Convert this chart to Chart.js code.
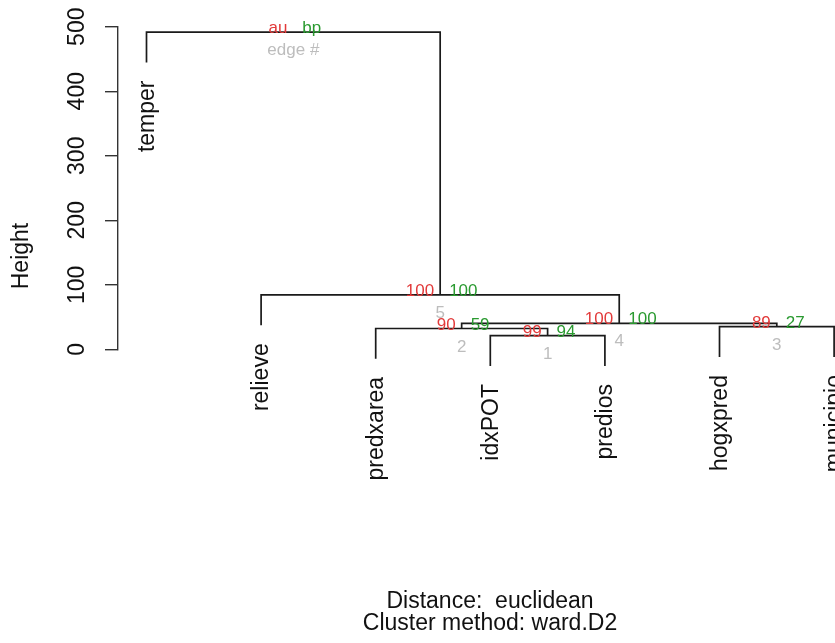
<!DOCTYPE html>
<html><head><meta charset="utf-8">
<script src="https://cdn.jsdelivr.net/npm/chart.js@4/dist/chart.umd.min.js"></script>
<style>html,body{margin:0;padding:0;background:#fff;overflow:hidden}#wrap{width:835px;height:643px;position:relative}</style>
</head><body><div id="wrap"><canvas id="c" width="835" height="643"></canvas></div>
<script>
// ---- data ----
const leafLabels = ['temper', 'relieve', 'predxarea', 'idxPOT', 'predios', 'hogxpred', 'municipio'];
// hclust-style merges: negative = leaf (1-based position), positive = earlier merge
const mergeLeft   = [-4, -3, -6, 2, -2, -1];
const mergeRight  = [-5,  1, -7, 3,  4,  5];
const mergeHeight = [21.1, 32.2, 35.0, 40.3, 84.2, 491.5];
const auValues    = [99, 90, 89, 100, 100];
const bpValues    = [94, 59, 27, 100, 100];
const edgeNumbers = [1, 2, 3, 4, 5];
const yTicks      = [0, 100, 200, 300, 400, 500];
const yTitle      = 'Height';
const subLines    = ['Distance:  euclidean', 'Cluster method: ward.D2'];

// ---- build dendrogram geometry (data space) ----
const hang = 0.1 * (Math.max(...mergeHeight) - Math.min(...mergeHeight));
const nodeX = [], leafBottom = {};
function posOf(ref) { return ref < 0 ? -ref : nodeX[ref - 1]; }
function topOf(ref, k) {
  if (ref < 0) { leafBottom[-ref] = mergeHeight[k] - hang; return leafBottom[-ref]; }
  return mergeHeight[ref - 1];
}
const datasets = [];
for (let k = 0; k < mergeHeight.length; k++) {
  const xl = posOf(mergeLeft[k]), xr = posOf(mergeRight[k]);
  const yl = topOf(mergeLeft[k], k), yr = topOf(mergeRight[k], k);
  const h = mergeHeight[k];
  nodeX.push((xl + xr) / 2);
  datasets.push({
    data: [{x: xl, y: yl}, {x: xl, y: h}, {x: xr, y: h}, {x: xr, y: yr}],
    showLine: true, borderColor: '#1a1a1a', borderWidth: 1.7, pointRadius: 0,
    tension: 0, clip: false, fill: false
  });
}

const FONT = '"Liberation Sans", Arial, Helvetica, sans-serif';
const RED = '#E23A3A', GREEN = '#2A9A30', GRAY = '#BDBDBD';

const overlay = {
  id: 'overlay',
  afterDatasetsDraw(chart) {
    const ctx = chart.ctx, xs = chart.scales.x, ys = chart.scales.y;
    const axisX = chart.chartArea.left;
    ctx.save();
    ctx.fillStyle = '#111';
    // y tick labels (rotated)
    ctx.font = '23px ' + FONT;
    ctx.textAlign = 'center'; ctx.textBaseline = 'middle';
    yTicks.forEach(t => {
      const py = ys.getPixelForValue(t);
      ctx.save(); ctx.translate(axisX - 40.5, py); ctx.rotate(-Math.PI / 2);
      ctx.fillText(String(t), 0, 0); ctx.restore();
    });
    // y title
    ctx.save(); ctx.translate(22, 256); ctx.rotate(-Math.PI / 2);
    ctx.fillText(yTitle, 0, 0); ctx.restore();
    // leaf labels
    ctx.textAlign = 'right'; ctx.textBaseline = 'middle';
    leafLabels.forEach((lab, i) => {
      const px = xs.getPixelForValue(i + 1);
      const py = ys.getPixelForValue(leafBottom[i + 1]) + 18;
      ctx.save(); ctx.translate(px + 1, py); ctx.rotate(-Math.PI / 2);
      ctx.fillText(lab, 0, 0); ctx.restore();
    });
    // edge labels
    ctx.font = '17px ' + FONT;
    ctx.textBaseline = 'alphabetic';
    for (let k = 0; k < mergeHeight.length; k++) {
      const px = xs.getPixelForValue(nodeX[k]);
      const py = ys.getPixelForValue(mergeHeight[k]);
      const isRoot = k === mergeHeight.length - 1;
      const au = isRoot ? 'au' : String(auValues[k]);
      const bp = isRoot ? 'bp' : String(bpValues[k]);
      const en = isRoot ? 'edge #' : String(edgeNumbers[k]);
      ctx.textAlign = 'right'; ctx.fillStyle = RED; ctx.fillText(au, px - 6, py + 1);
      ctx.textAlign = 'left'; ctx.fillStyle = GREEN; ctx.fillText(bp, px + 9, py + 1);
      ctx.textAlign = 'center'; ctx.fillStyle = GRAY; ctx.fillText(en, px, py + 23);
    }
    // subtitle
    ctx.fillStyle = '#111';
    ctx.font = '23px ' + FONT;
    ctx.textAlign = 'center';
    ctx.fillText(subLines[0], 490, 608);
    ctx.fillText(subLines[1], 490, 630);
    ctx.restore();
  }
};

new Chart(document.getElementById('c'), {
  type: 'scatter',
  data: { datasets },
  options: {
    responsive: false, animation: false, devicePixelRatio: 1,
    layout: { padding: { left: 105, top: 26.7, right: 0, bottom: 293.7 } },
    plugins: { legend: { display: false }, tooltip: { enabled: false } },
    scales: {
      x: { type: 'linear', display: false, min: 0.7513, max: 7.0078 },
      y: {
        type: 'linear', min: 0, max: 500,
        ticks: { display: false, stepSize: 100 },
        grid: { drawOnChartArea: false, drawTicks: true, tickLength: 13, color: '#333', lineWidth: 1.4 },
        border: { display: true, color: '#333', width: 1.4 }
      }
    }
  },
  plugins: [overlay]
});
</script>
</body></html>
